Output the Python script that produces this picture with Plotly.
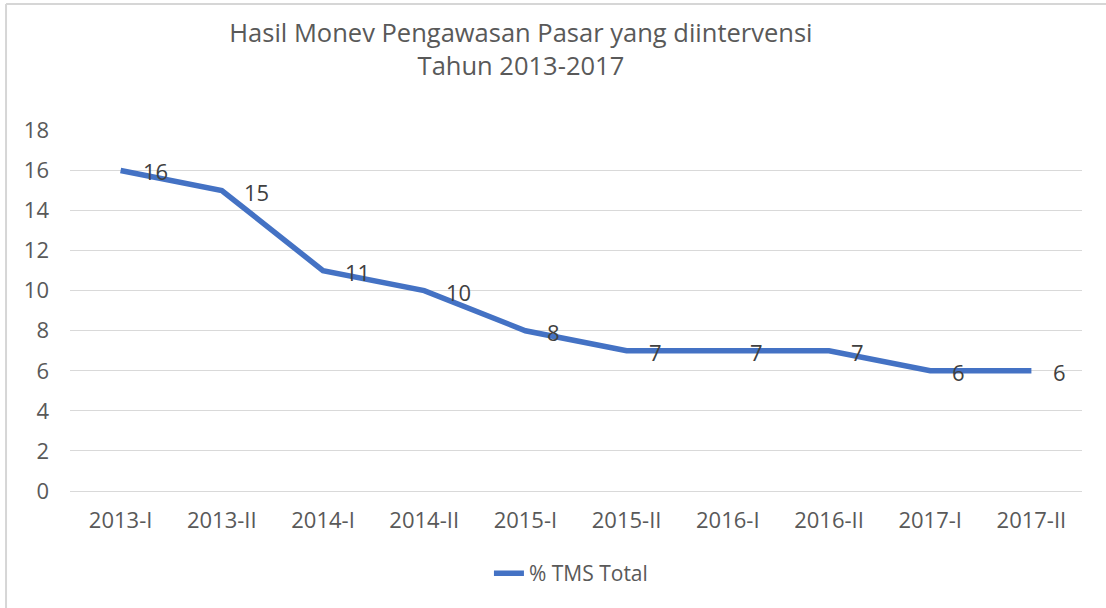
import plotly.graph_objects as go

categories = ["2013-I", "2013-II", "2014-I", "2014-II", "2015-I",
              "2015-II", "2016-I", "2016-II", "2017-I", "2017-II"]
tms_total = [16, 15, 11, 10, 8, 7, 7, 7, 6, 6]
series_name = "% TMS Total"
y_ticks = list(range(0, 20, 2))

FONT = "Open Sans"
fig = go.Figure()
fig.add_trace(go.Scatter(
    x=categories, y=tms_total, mode="lines", name=series_name,
    line=dict(color="#4472C4", width=5.5),
))

for c, v in zip(categories, tms_total):
    fig.add_annotation(x=c, y=v, text=str(v), showarrow=False,
                       xanchor="left", yanchor="middle", xshift=20, yshift=-1,
                       font=dict(family=FONT, size=22, color="#404040"))

# chart frame (left and top edges visible)
fig.add_shape(type="line", xref="paper", yref="paper",
              x0=-0.0632, x1=-0.0632, y0=-0.33, y1=1.349,
              line=dict(color="#d6d6d6", width=2))
fig.add_shape(type="line", xref="paper", yref="paper",
              x0=-0.0632, x1=1.03, y0=1.349, y1=1.349,
              line=dict(color="#d6d6d6", width=2))

fig.update_layout(
    width=1106, height=608,
    margin=dict(l=70, r=24, t=130, b=117),
    paper_bgcolor="white", plot_bgcolor="white",
    font=dict(family=FONT, color="#595959"),
    title=dict(text="Hasil Monev Pengawasan Pasar yang diintervensi<br>Tahun 2013-2017",
               x=0.471, xanchor="center", y=0.931, yanchor="top",
               font=dict(family=FONT, size=25.5, color="#595959")),
    showlegend=True,
    legend=dict(orientation="h", x=0.495, xanchor="center", y=-0.172, yanchor="top",
                font=dict(family=FONT, size=21, color="#595959")),
    xaxis=dict(range=[-0.5, 9.5], showgrid=False, showline=False, ticks="",
               ticklabelstandoff=14,
               tickfont=dict(family=FONT, size=22, color="#595959")),
    yaxis=dict(range=[0, 18.02], tickvals=y_ticks, showgrid=True, gridcolor="#d9d9d9",
               gridwidth=1.3, zeroline=True, zerolinecolor="#d9d9d9", zerolinewidth=1.3,
               showline=False, ticks="", ticklabelstandoff=20,
               tickfont=dict(family=FONT, size=22, color="#595959")),
)

fig.write_html("out.html", config={"displayModeBar": False},
               post_script="document.body.style.margin='0';")
